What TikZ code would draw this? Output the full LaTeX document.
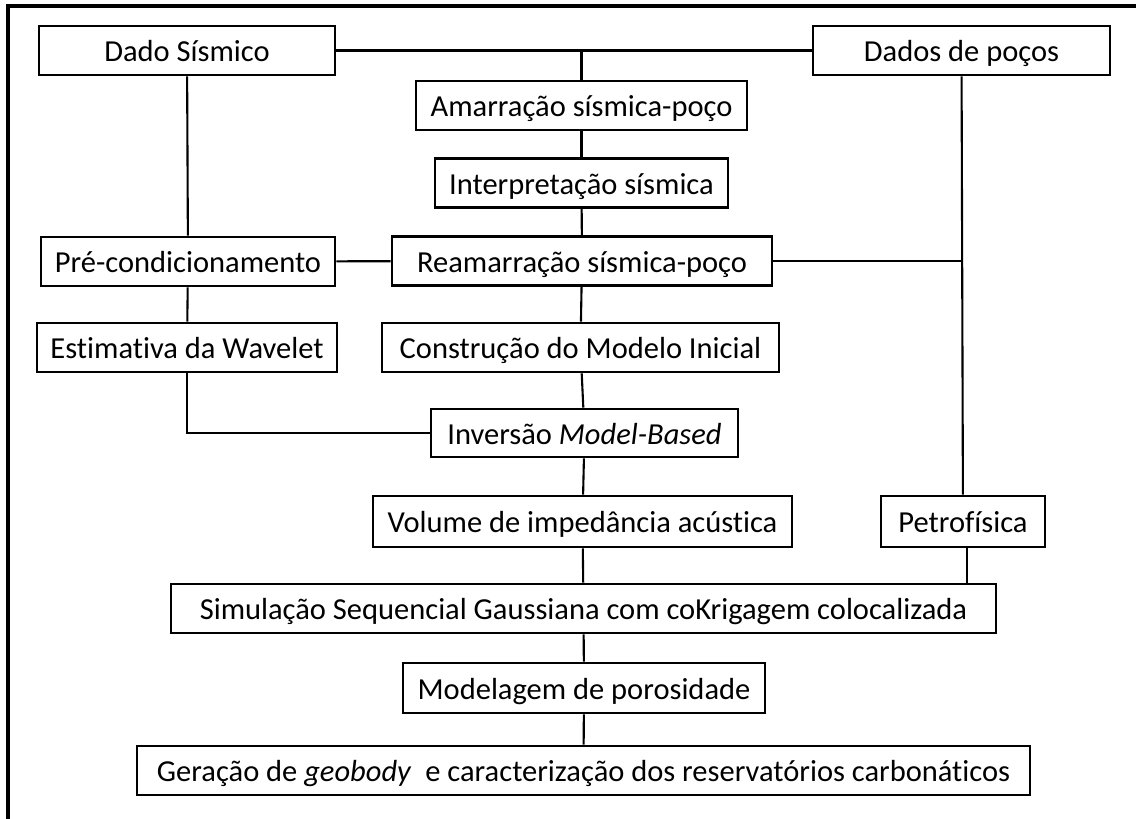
\documentclass[tikz,border=0pt]{standalone}
\usepackage{fontspec}
\setmainfont{Carlito}[Ligatures={NoCommon}]
\usepackage{tikz}
\tikzset{
  font={\fontsize{30.5pt}{36pt}\selectfont}}

\begin{document}
\begin{tikzpicture}[x=1pt,y=-1pt]
\tikzstyle{every node}+=[inner sep=0pt]
\tikzstyle{caixa}=[draw=black, line width=2.6pt, minimum height=49pt, fill=white, text height=26pt, text depth=4pt]
\tikzstyle{liga}=[black, line width=2.1pt]
\useasboundingbox (0,0) rectangle (1136,819);
\draw [black, line width=3.2pt] (8,819) -- (8,6) -- (1136,6);
\node [caixa, minimum width=296pt] (dado) at (187,50.5) {Dado Sísmico};
\node [caixa, minimum width=297pt] (pocos) at (961.5,50.5) {Dados de poços};
\node [caixa, minimum width=331pt] (amarr) at (581.5,105.5) {Amarração sísmica-poço};
\node [caixa, minimum width=293pt] (interp) at (581.5,183) {Interpretação sísmica};
\node [caixa, minimum width=294pt] (precond) at (188,261.5) {Pré-condicionamento};
\node [caixa, minimum width=380pt] (reamarr) at (582,261) {Reamarração sísmica-poço};
\node [caixa, minimum width=300pt] (wavelet) at (187,347.5) {Estimativa da Wavelet};
\node [caixa, minimum width=397pt] (modini) at (580.5,347.5) {Construção do Modelo Inicial};
\node [caixa, minimum width=307pt, minimum height=48pt] (inversao) at (584.5,433) {Inversão \textit{Model-Based}};
\node [caixa, minimum width=419pt, minimum height=51pt] (volume) at (582.5,521.5) {Volume de impedância acústica};
\node [caixa, minimum width=164pt, minimum height=51pt] (petro) at (963,521.5) {Petrofísica};
\node [caixa, minimum width=825pt] (sgs) at (583.5,608.5) {Simulação Sequencial Gaussiana com coKrigagem colocalizada};
\node [caixa, minimum width=362pt, minimum height=50pt] (poros) at (584,688) {Modelagem de porosidade};
\node [caixa, minimum width=893pt] (geobody) at (583.5,770.5) {Geração de \textit{geobody}\ \ e caracterização dos reservatórios carbonáticos};
\draw [liga] (dado.east) -- (pocos.west);
\draw [liga] (amarr.north) -- (amarr.north |- dado.east);
\draw [liga] (amarr) -- (interp);
\draw [liga] (interp) -- (reamarr);
\draw [liga] (dado) -- (precond);
\draw [liga] (precond) -- (reamarr);
\draw [liga] (precond) -- (wavelet);
\draw [liga] (pocos) -- (petro);
\draw [liga] (reamarr.east) -- (reamarr.east -| pocos.south);
\draw [liga] (reamarr) -- (modini);
\draw [liga] (modini) -- (inversao);
\draw [liga] (wavelet.south) |- (inversao.west);
\draw [liga] (inversao) -- (volume);
\draw [liga] (volume) -- (sgs);
\draw [liga] ([xshift=4pt]petro.south) -- ([xshift=4pt]petro.south |- sgs.north);
\draw [liga] (sgs) -- (poros);
\draw [liga] (poros) -- (geobody);
\end{tikzpicture}
\end{document}
